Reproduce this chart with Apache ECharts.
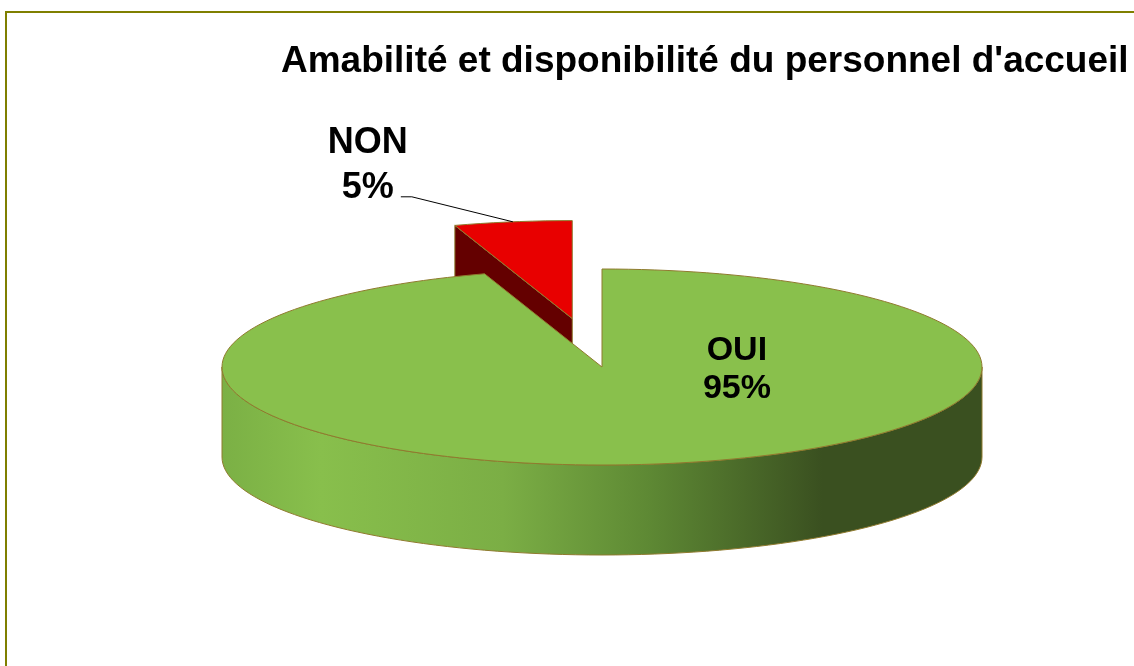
<!DOCTYPE html>
<html>
<head>
<meta charset="utf-8">
<script src="https://cdn.jsdelivr.net/npm/echarts@6/dist/echarts.min.js"></script>
<style>
  html, body { margin: 0; padding: 0; background: #fff; }
  #pie3d { width: 1134px; height: 666px; }
</style>
</head>
<body>
<div id="pie3d"></div>
<script>
  const titleText = 'Amabilité et disponibilité du personnel d\'accueil'
  const categories = ['OUI', 'NON'] // parts, dans le sens horaire depuis midi
  const values = [95, 5] // pourcentages

  // mise en page de la "3D"
  const CX = 602, CY = 367, RX = 380, RY = 98, DEPTH = 90
  const EXPLODE = [0, 0.5]
  const TOP_COLORS = ['#89C04C', '#E80000']
  const CUT_COLORS = ['#4E6E2A', '#640000']
  const EDGE = '#8F7A2E'

  const total = values.reduce((a, b) => a + b, 0)
  const toRad = d => d * Math.PI / 180

  function pt(ox, oy, deg, r, z) {
    return [ox + RX * r * Math.sin(toRad(deg)), oy - RY * r * Math.cos(toRad(deg)) + (z || 0)]
  }

  function arcPts(ox, oy, a0, a1, z) {
    const pts = []
    const n = Math.max(2, Math.ceil(Math.abs(a1 - a0) / 2))
    for (let i = 0; i <= n; i++) pts.push(pt(ox, oy, a0 + (a1 - a0) * i / n, 1, z))
    return pts
  }

  const sideGradient = new echarts.graphic.LinearGradient(CX - RX, 0, CX + RX, 0, [
    { offset: 0, color: '#7BB045' },
    { offset: 0.13, color: '#88BF4C' },
    { offset: 0.37, color: '#7BAE45' },
    { offset: 0.56, color: '#5E8934' },
    { offset: 0.79, color: '#3A5020' },
    { offset: 1, color: '#3A5020' }
  ], true)

  function renderSlice(params, api) {
    const i = params.dataIndex
    let before = 0
    for (let k = 0; k < i; k++) before += values[k]
    const a0 = before / total * 360
    const a1 = (before + api.value(1)) / total * 360
    const mid = (a0 + a1) / 2
    // centre décalé pour la part éclatée
    const off = pt(0, 0, mid, EXPLODE[i])
    const ox = CX + off[0], oy = CY + off[1]
    const front = -Math.cos(toRad(mid))
    const base = Math.round((front + 1) * 10)
    const children = []

    // flanc extérieur (partie avant seulement)
    const s = Math.max(a0, 90), e = Math.min(a1, 270)
    if (e > s) {
      const top = arcPts(ox, oy, s, e, 0)
      const bottom = arcPts(ox, oy, e, s, DEPTH)
      children.push({
        type: 'polygon', z2: base + 1,
        shape: { points: top.concat(bottom) },
        style: { fill: sideGradient, stroke: EDGE, lineWidth: 1 }
      })
    }
    // faces de coupe visibles
    const cuts = [[a0, Math.sin(toRad(a0)) < -0.01], [a1, Math.sin(toRad(a1)) > 0.01]]
    cuts.forEach(([a, visible]) => {
      if (!visible) return
      const r = pt(ox, oy, a, 1)
      children.push({
        type: 'polygon', z2: base + 1,
        shape: { points: [[ox, oy], r, [r[0], r[1] + DEPTH], [ox, oy + DEPTH]] },
        style: { fill: CUT_COLORS[i], stroke: EDGE, lineWidth: 1 }
      })
    })
    // dessus
    children.push({
      type: 'polygon', z2: base + 2,
      shape: { points: [[ox, oy]].concat(arcPts(ox, oy, a0, a1, 0)) },
      style: { fill: TOP_COLORS[i], stroke: EDGE, lineWidth: 1 }
    })

    const label = categories[i] + '\n' + api.value(1) + '%'
    if (EXPLODE[i] > 0) {
      // étiquette extérieure avec trait de rappel
      const rim = pt(ox, oy, mid, 1)
      const lx = rim[0] - 145, ly = rim[1] - 56
      children.push({
        type: 'polyline', z2: 60,
        shape: { points: [[lx + 33, rim[1] - 25], [lx + 44, rim[1] - 25], rim] },
        style: { stroke: '#000', lineWidth: 1, fill: null }
      })
      children.push({
        type: 'text', z2: 60,
        style: {
          text: label, x: lx, y: ly, align: 'center', verticalAlign: 'middle',
          font: 'bold 36px Arial, "Liberation Sans", sans-serif', lineHeight: 45, fill: '#000'
        }
      })
    } else {
      const p = pt(ox, oy, 90, 0.355, 3)
      children.push({
        type: 'text', z2: 60,
        style: {
          text: label, x: p[0], y: p[1], align: 'center', verticalAlign: 'middle',
          font: 'bold 34px Arial, "Liberation Sans", sans-serif', lineHeight: 38, fill: '#000'
        }
      })
    }
    return { type: 'group', children }
  }

  const chart = echarts.init(document.getElementById('pie3d'))
  chart.setOption({
    animation: false,
    title: {
      text: titleText,
      left: 276,
      top: 38,
      textStyle: { fontFamily: 'Arial, "Liberation Sans", sans-serif', fontWeight: 'bold', fontSize: 37, color: '#000' }
    },
    graphic: [{
      type: 'rect',
      shape: { x: 6, y: 12, width: 1300, height: 800 },
      style: { fill: null, stroke: '#7F7F00', lineWidth: 2 }
    }],
    series: [{
      type: 'custom',
      coordinateSystem: 'none',
      renderItem: renderSlice,
      data: categories.map((c, i) => [i, values[i]])
    }]
  })
</script>
</body>
</html>
